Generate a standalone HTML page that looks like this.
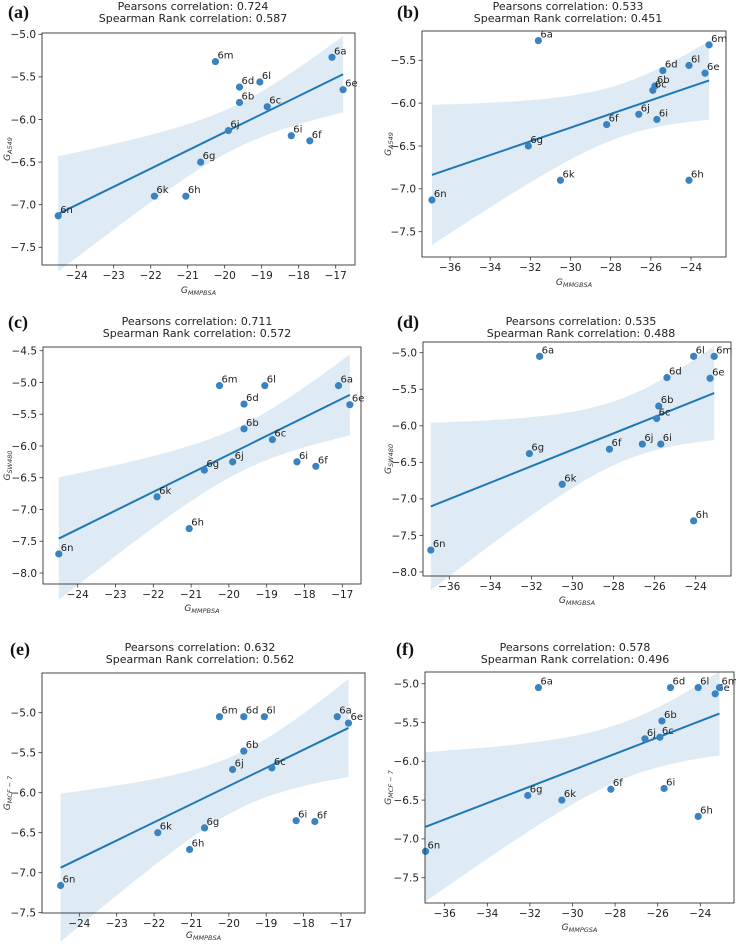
<!DOCTYPE html>
<html><head><meta charset="utf-8"><style>
body{margin:0;background:#fff;width:736px;height:943px;overflow:hidden}
svg{font-family:"DejaVu Sans","Liberation Sans",sans-serif}
</style></head><body>
<svg id="c" width="736" height="943"></svg>
<script>
const labels=["6a","6b","6c","6d","6e","6f","6g","6h","6i","6j","6k","6l","6m","6n"];
const xMMPBSA=[-17.1,-19.6,-18.85,-19.6,-16.8,-17.7,-20.65,-21.05,-18.2,-19.9,-21.9,-19.05,-20.25,-24.5];
const xMMGBSA=[-31.6,-25.8,-25.9,-25.4,-23.3,-28.2,-32.1,-24.1,-25.7,-26.6,-30.5,-24.1,-23.1,-36.9];
const yA549=[-5.27,-5.80,-5.85,-5.62,-5.65,-6.25,-6.50,-6.90,-6.19,-6.13,-6.90,-5.56,-5.32,-7.13];
const ySW480=[-5.05,-5.73,-5.90,-5.34,-5.35,-6.32,-6.38,-7.30,-6.25,-6.25,-6.80,-5.05,-5.05,-7.70];
const yMCF7=[-5.05,-5.48,-5.69,-5.05,-5.13,-6.36,-6.44,-6.71,-6.35,-5.71,-6.50,-5.05,-5.05,-7.16];
const titles=[["0.724","0.587"],["0.533","0.451"],["0.711","0.572"],["0.535","0.488"],["0.632","0.562"],["0.578","0.496"]];
const ticksPB=[-24,-23,-22,-21,-20,-19,-18,-17];
const ticksGB=[-36,-34,-32,-30,-28,-26,-24];

const panels=[
 {id:"a",x:xMMPBSA,y:yA549,box:[42,33,355,265],xc:[-24,76.7,-17,335.7],yc:[-5,34.3,-7.5,247.3],xt:ticksPB,yt:[-5,-5.5,-6,-6.5,-7,-7.5],tc:193,ty:6,lx:8,ly:12,xl:"MMPBSA",yl:"A549",xly:290,ylx:7},
 {id:"b",x:xMMGBSA,y:yA549,box:[422,31,726,257],xc:[-36,450,-24,691],yc:[-5.5,60.3,-7.5,231.7],xt:ticksGB,yt:[-5.5,-6,-6.5,-7,-7.5],tc:568,ty:6,lx:397,ly:12,xl:"MMGBSA",yl:"A549",xly:282,ylx:388},
 {id:"c",x:xMMPBSA,y:ySW480,box:[43,347,361,584],xc:[-24,77.7,-17,342.3],yc:[-4.5,350.7,-8,573],xt:ticksPB,yt:[-4.5,-5,-5.5,-6,-6.5,-7,-7.5,-8],tc:197,ty:321,lx:8,ly:322,xl:"MMPBSA",yl:"SW480",xly:608,ylx:7},
 {id:"d",x:xMMGBSA,y:ySW480,box:[423,342,731,576],xc:[-36,449.3,-24,695.7],yc:[-5,352.7,-8,572],xt:ticksGB,yt:[-5,-5.5,-6,-6.5,-7,-7.5,-8],tc:581,ty:321,lx:397,ly:322,xl:"MMGBSA",yl:"SW480",xly:600,ylx:388},
 {id:"e",x:xMMPBSA,y:yMCF7,box:[42,673,365,913],xc:[-24,79.3,-17,341],yc:[-5,712.7,-7.5,912.7],xt:ticksPB,yt:[-5,-5.5,-6,-6.5,-7,-7.5],tc:200,ty:647,lx:10,ly:649,xl:"MMPBSA",yl:"MCF − 7",xly:935,ylx:7},
 {id:"f",x:xMMGBSA,y:yMCF7,box:[425,672,734,903],xc:[-36,444.7,-24,700.3],yc:[-5,683.7,-7.5,877.7],xt:ticksGB,yt:[-5,-5.5,-6,-6.5,-7,-7.5],tc:575,ty:647,lx:396,ly:649,xl:"MMPGSA",yl:"MCF − 7",xly:927,ylx:388}
];
const NS="http://www.w3.org/2000/svg";
const svg=document.getElementById("c");
function mk(tag,attrs,parent,txt){const e=document.createElementNS(NS,tag);for(const k in attrs)e.setAttribute(k,attrs[k]);if(txt!==undefined)e.textContent=txt;(parent||svg).appendChild(e);return e;}
function fmt(v){const s=(Math.abs(v)%1===0)?Math.abs(v).toString():Math.abs(v).toFixed(1);return (v<0?"−":"")+s;}
function fmtY(v){return (v<0?"−":"")+Math.abs(v).toFixed(1);}

panels.forEach((p,pi)=>{
 const g=mk("g",{});
 
 
 const sx=v=>p.xc[1]+(v-p.xc[0])*(p.xc[3]-p.xc[1])/(p.xc[2]-p.xc[0]);
 const sy=v=>p.yc[1]+(v-p.yc[0])*(p.yc[3]-p.yc[1])/(p.yc[2]-p.yc[0]);
 const [L,T,R,B]=p.box;
 const n=p.x.length;let mx=0,my=0;for(let i=0;i<n;i++){mx+=p.x[i];my+=p.y[i];}mx/=n;my/=n;
 let sxx=0,sxy=0;for(let i=0;i<n;i++){sxx+=(p.x[i]-mx)**2;sxy+=(p.x[i]-mx)*(p.y[i]-my);}
 const b=sxy/sxx,a=my-b*mx;let sse=0;for(let i=0;i<n;i++)sse+=(p.y[i]-a-b*p.x[i])**2;
 const s=Math.sqrt(sse/(n-2)),t=2.179;
 const x0=Math.min(...p.x),x1=Math.max(...p.x);
 let up=[],lo=[];
 for(let k=0;k<=60;k++){const xv=x0+(x1-x0)*k/60;const yh=a+b*xv;const h=t*s*Math.sqrt(1/n+(xv-mx)**2/sxx);
  up.push(sx(xv).toFixed(1)+","+sy(yh+h).toFixed(1));lo.unshift(sx(xv).toFixed(1)+","+sy(yh-h).toFixed(1));}
 const band=mk("polygon",{points:up.concat(lo).join(" "),fill:"#1f77b4","fill-opacity":"0.15"},g);
 
 
 const ln=mk("line",{x1:sx(x0),y1:sy(a+b*x0),x2:sx(x1),y2:sy(a+b*x1),stroke:"#1f77b4","stroke-width":2},g);
 
 
 for(let i=0;i<n;i++){
  const c=mk("circle",{cx:sx(p.x[i]),cy:sy(p.y[i]),r:3.6,fill:"#3a83c0"},g);
  
  
  const tl=mk("text",{x:sx(p.x[i])+2,y:sy(p.y[i])-3,"font-size":"10",fill:"#222"},g,labels[i]);
  
  
 }
 const fr=mk("rect",{x:L,y:T,width:R-L,height:B-T,fill:"none",stroke:"#333","stroke-width":0.9},g);
 
 
 p.xt.forEach(v=>{const X=sx(v);mk("line",{x1:X,y1:B,x2:X,y2:B+3.5,stroke:"#333","stroke-width":0.8},g);
  const tx=mk("text",{x:X,y:B+14,"font-size":"10.5","text-anchor":"middle",fill:"#222"},g,fmt(v));
  
  });
 p.yt.forEach(v=>{const Y=sy(v);mk("line",{x1:L-3.5,y1:Y,x2:L,y2:Y,stroke:"#333","stroke-width":0.8},g);
  const ty=mk("text",{x:L-6,y:Y+3.8,"font-size":"10.5","text-anchor":"end",fill:"#222"},g,fmtY(v));
  
  });
 const t1=mk("text",{x:p.tc,y:p.ty+4,"font-size":"11","text-anchor":"middle",fill:"#222"},g,"Pearsons correlation: "+titles[pi][0]);
 
 
 const t2=mk("text",{x:p.tc,y:p.ty+16,"font-size":"11","text-anchor":"middle",fill:"#222"},g,"Spearman Rank correlation: "+titles[pi][1]);
 
 
 const pl=mk("text",{x:p.lx,y:p.ly+6,"font-size":"18","font-weight":"bold","font-family":"Liberation Serif,serif",fill:"#111"},g,"("+p.id+")");
 
 
 const xl=mk("text",{x:(L+R)/2,y:p.xly+3,"font-size":"9","text-anchor":"middle","font-style":"italic",fill:"#333"},g);
 mk("tspan",{},xl,"G");mk("tspan",{"font-size":"6.5",dy:"2"},xl,p.xl);
 
 
 const cy=(T+B)/2;
 const yl=mk("text",{x:0,y:0,"font-size":"9","text-anchor":"middle","font-style":"italic",fill:"#333",transform:`translate(${p.ylx+3},${cy}) rotate(-90)`},g);
 mk("tspan",{},yl,"G");mk("tspan",{"font-size":"6.5",dy:"2"},yl,p.yl);
 
 
});
</script>
</body></html>
